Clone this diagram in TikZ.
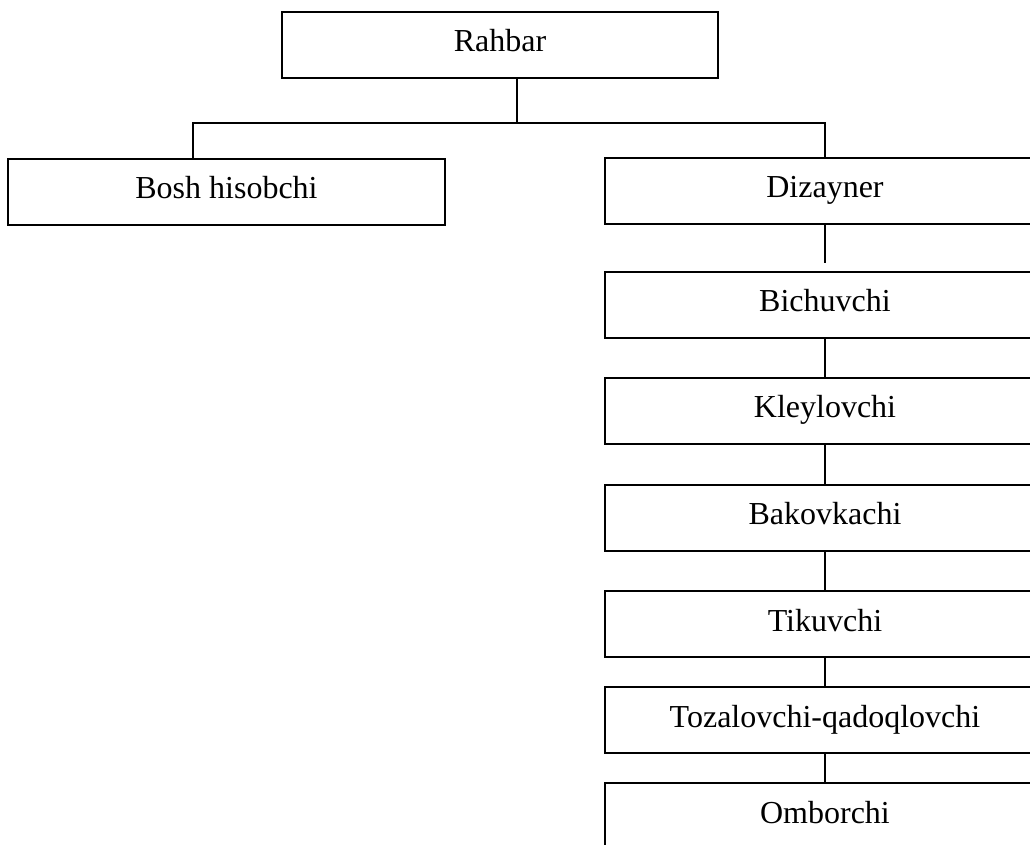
\documentclass[tikz,border=0pt]{standalone}
\usepackage{fontspec}
\setmainfont{Liberation Serif}
\usetikzlibrary{calc}

\begin{document}
\begin{tikzpicture}[
    x=0.5pt, y=-0.5pt,
    font=\fontsize{16}{19}\selectfont,
    box/.style={draw, line width=1pt, inner sep=0pt, minimum height=33pt,
                text height=10pt, text depth=3pt},
    link/.style={line width=1pt}
]

    % Parameters
    \def\colX{825}
    \def\boxW{220pt}

    % Page frame
    \useasboundingbox (0,0) rectangle (1030,845);

    % 1. Top box
    \node[box, minimum width=218pt] (rahbar) at (500,45) {Rahbar};

    % 2. Second level
    \node[box, minimum width=218.5pt] (bosh) at (226.5,192) {Bosh hisobchi};
    \node[box, minimum width=\boxW] (dizayner) at (\colX,191) {Dizayner};

    % 3. Right column
    \node[box, minimum width=\boxW] (bichuv) at (\colX,305) {Bichuvchi};
    \node[box, minimum width=\boxW] (kley) at (\colX,411) {Kleylovchi};
    \node[box, minimum width=\boxW] (bakov) at (\colX,518) {Bakovkachi};
    \node[box, minimum width=\boxW] (tikuv) at (\colX,624.5) {Tikuvchi};
    \node[box, minimum width=\boxW] (tozal) at (\colX,720.5) {Tozalovchi-qadoqlovchi};
    \node[box, minimum width=\boxW] (ombor) at (\colX,816) {Omborchi};

    % 4. Connectors
    \coordinate (split) at (517,123);
    \coordinate (splitL) at (193,123);
    \coordinate (splitR) at (\colX,123);
    \draw[link] (split |- rahbar.south) -- (split);
    \draw[link] (splitL |- bosh.north) -- (splitL) -- (splitR) -- (dizayner.north);
    \draw[link, shorten >=4pt] (dizayner) -- (bichuv);
    \foreach \a/\b in {bichuv/kley, kley/bakov, bakov/tikuv, tikuv/tozal, tozal/ombor}
        \draw[link] (\a) -- (\b);

\end{tikzpicture}
\end{document}
